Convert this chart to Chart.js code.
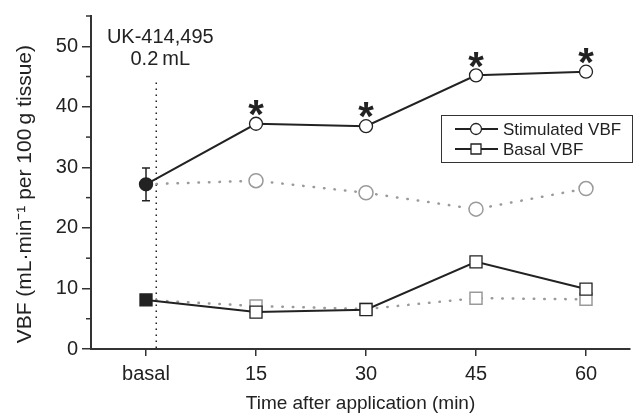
<!DOCTYPE html>
<html>
<head>
<meta charset="utf-8">
<script src="https://cdn.jsdelivr.net/npm/chart.js@4.4.1/dist/chart.umd.min.js"></script>
<style>
  html, body { margin: 0; padding: 0; background: #fff; }
  #wrap { width: 640px; height: 415px; }
</style>
</head>
<body>
<div id="wrap"><canvas id="vbfChart"></canvas></div>
<script>
// values
const times = [0, 15, 30, 45, 60];
const timeLabels = ['basal', '15', '30', '45', '60'];
const stimulated = [27.2, 37.2, 36.8, 45.2, 45.8];
const stimulatedCtrl = [27.2, 27.8, 25.8, 23.1, 26.5];
const basal = [8.1, 6.1, 6.5, 14.4, 9.9];
const basalCtrl = [8.1, 7.1, 6.6, 8.4, 8.2];
const stimBasalErr = [29.9, 24.5];   // top / bottom of the error bar at basal
const starredTimes = [15, 30, 45, 60];
const applicationTime = 1.4;          // dotted marker for the application
const yTicks = [0, 10, 20, 30, 40, 50];

const FONT = '"Liberation Sans", Arial, Helvetica, sans-serif';
const INK = '#222';
const GREY = '#9a9a9a';

function pts(vals) {
  return times.map((t, i) => ({ x: t, y: vals[i] }));
}

const extras = {
  id: 'extras',
  beforeDatasetsDraw(chart) {
    const { ctx, scales: { x, y } } = chart;
    ctx.save();
    // application marker
    ctx.strokeStyle = INK;
    ctx.lineWidth = 1.5;
    ctx.setLineDash([1.5, 4.5]);
    const ax = x.getPixelForValue(applicationTime);
    ctx.beginPath();
    ctx.moveTo(ax, y.getPixelForValue(44));
    ctx.lineTo(ax, y.getPixelForValue(0));
    ctx.stroke();
    ctx.setLineDash([]);
    // error bar on basal stimulated value
    const ex = x.getPixelForValue(times[0]);
    const et = y.getPixelForValue(stimBasalErr[0]);
    const eb = y.getPixelForValue(stimBasalErr[1]);
    ctx.beginPath();
    ctx.moveTo(ex, et); ctx.lineTo(ex, eb);
    ctx.moveTo(ex - 4, et); ctx.lineTo(ex + 4, et);
    ctx.moveTo(ex - 4, eb); ctx.lineTo(ex + 4, eb);
    ctx.stroke();
    ctx.restore();
  },
  afterDatasetsDraw(chart) {
    const { ctx, scales: { x, y } } = chart;
    ctx.save();
    // minor y ticks
    ctx.strokeStyle = '#333';
    ctx.lineWidth = 1.5;
    for (let v = 5; v <= 55; v += 10) {
      const py = y.getPixelForValue(v);
      ctx.beginPath();
      ctx.moveTo(x.left - 5, py);
      ctx.lineTo(x.left, py);
      ctx.stroke();
    }
    // significance stars
    ctx.fillStyle = INK;
    ctx.font = 'bold 40px ' + FONT;
    ctx.textAlign = 'center';
    ctx.textBaseline = 'alphabetic';
    starredTimes.forEach(t => {
      const i = times.indexOf(t);
      const px = x.getPixelForValue(t);
      const py = y.getPixelForValue(stimulated[i]) - 19;
      ctx.fillText('*', px, py + 0.58 * 40);
    });
    // annotation
    ctx.font = '20px ' + FONT;
    ctx.textBaseline = 'middle';
    const ax = x.getPixelForValue(applicationTime) + 4;
    ctx.fillText('UK-414,495', ax, y.getPixelForValue(51.5));
    ctx.fillText('0.2\u2009mL', ax, y.getPixelForValue(47.9));
    // legend
    ctx.strokeStyle = '#333';
    ctx.lineWidth = 1;
    ctx.strokeRect(441.5, 115.5, 191, 47);
    const rows = [
      { label: 'Stimulated VBF', yy: 129, style: 'circle' },
      { label: 'Basal VBF', yy: 149, style: 'rect' }
    ];
    rows.forEach(r => {
      ctx.strokeStyle = INK;
      ctx.lineWidth = 2;
      ctx.beginPath();
      ctx.moveTo(455, r.yy); ctx.lineTo(498, r.yy);
      ctx.stroke();
      ctx.fillStyle = '#fff';
      ctx.lineWidth = 1.3;
      ctx.beginPath();
      if (r.style === 'circle') ctx.arc(476, r.yy, 5.5, 0, Math.PI * 2);
      else ctx.rect(471, r.yy - 5, 10, 10);
      ctx.fill(); ctx.stroke();
      ctx.fillStyle = INK;
      ctx.font = '17px ' + FONT;
      ctx.textAlign = 'left';
      ctx.textBaseline = 'middle';
      ctx.fillText(r.label, 503, r.yy + 1);
    });
    ctx.restore();
  }
};

new Chart(document.getElementById('vbfChart'), {
  type: 'scatter',
  data: {
    datasets: [
      {
        label: 'Stimulated VBF',
        data: pts(stimulated),
        showLine: true,
        order: 0,
        borderColor: INK,
        borderWidth: 2,
        pointStyle: 'circle',
        pointRadius: 6.5,
        pointBorderWidth: 1.3,
        pointBorderColor: INK,
        pointBackgroundColor: times.map((t, i) => i === 0 ? INK : '#fff')
      },
      {
        label: 'Basal VBF',
        data: pts(basal),
        showLine: true,
        order: 0,
        borderColor: INK,
        borderWidth: 2,
        pointStyle: 'rect',
        pointRadius: 8.5,
        pointBorderWidth: 1.3,
        pointBorderColor: INK,
        pointBackgroundColor: times.map((t, i) => i === 0 ? INK : '#fff')
      },
      {
        label: 'Stimulated VBF (control)',
        data: pts(stimulatedCtrl),
        showLine: true,
        order: 1,
        borderColor: GREY,
        borderWidth: 2.5,
        borderDash: [0.5, 10],
        borderCapStyle: 'round',
        pointStyle: 'circle',
        pointRadius: times.map((t, i) => i === 0 ? 0 : 7),
        pointBorderWidth: 1.5,
        pointBorderColor: GREY,
        pointBackgroundColor: '#fff'
      },
      {
        label: 'Basal VBF (control)',
        data: pts(basalCtrl),
        showLine: true,
        order: 1,
        borderColor: GREY,
        borderWidth: 2.5,
        borderDash: [0.5, 10],
        borderCapStyle: 'round',
        pointStyle: 'rect',
        pointRadius: times.map((t, i) => i === 0 ? 0 : 8.5),
        pointBorderWidth: 1.5,
        pointBorderColor: GREY,
        pointBackgroundColor: '#fff'
      }
    ]
  },
  options: {
    responsive: true,
    maintainAspectRatio: false,
    animation: false,
    layout: { padding: { top: 13, left: 0, right: 0, bottom: 0 } },
    plugins: { legend: { display: false }, tooltip: { enabled: false } },
    scales: {
      x: {
        type: 'linear',
        min: -7.5,
        max: 66,
        afterFit(s) { s.height = 66; },
        afterBuildTicks(s) { s.ticks = times.map(v => ({ value: v })); },
        border: { display: true, color: '#333', width: 2 },
        grid: { drawOnChartArea: false, drawTicks: true, tickLength: 7, color: '#333', lineWidth: 1.5 },
        ticks: {
          color: INK,
          padding: 6,
          font: { family: FONT, size: 20 },
          callback: v => timeLabels[times.indexOf(v)]
        },
        title: {
          display: true,
          text: 'Time after application (min)',
          color: INK,
          font: { family: FONT, size: 19 },
          padding: { top: 0, bottom: 0 }
        }
      },
      y: {
        min: 0,
        max: 55,
        afterFit(s) { s.width = 91; },
        afterBuildTicks(s) { s.ticks = yTicks.map(v => ({ value: v })); },
        border: { display: true, color: '#333', width: 2 },
        grid: { drawOnChartArea: false, drawTicks: true, tickLength: 9, color: '#333', lineWidth: 1.5 },
        ticks: {
          color: INK,
          padding: 4,
          font: { family: FONT, size: 20 }
        },
        title: {
          display: true,
          text: 'VBF (mL\u00b7min\u207b\u00b9 per 100\u2009g tissue)\u00a0\u00a0\u00a0\u00a0',
          color: INK,
          font: { family: FONT, size: 21 },
          padding: { top: 13, bottom: 0 }
        }
      }
    }
  },
  plugins: [extras]
});
</script>
</body>
</html>
